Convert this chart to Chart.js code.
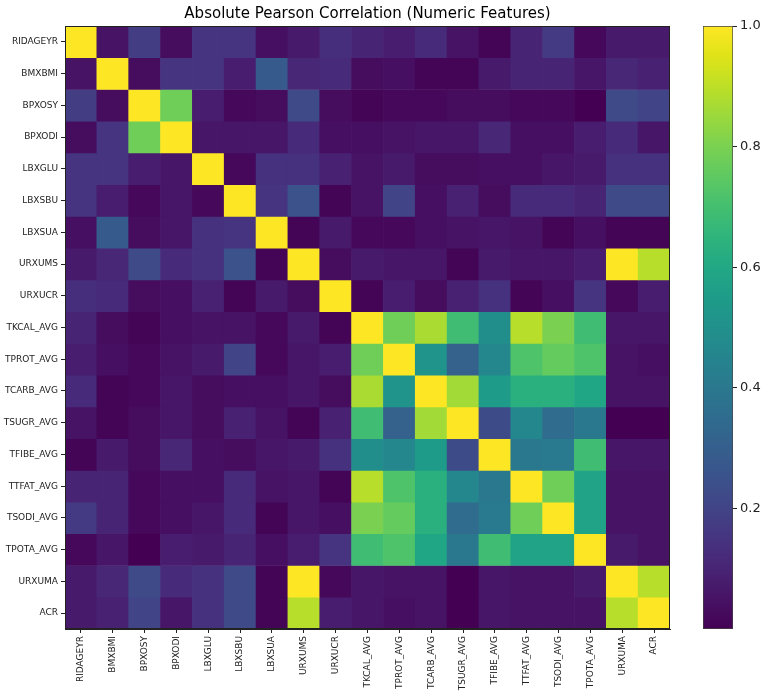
<!DOCTYPE html>
<html>
<head>
<meta charset="utf-8">
<script src="https://cdn.jsdelivr.net/npm/chart.js@4.4.1/dist/chart.umd.min.js"></script>
<style>
  html, body { margin: 0; padding: 0; background: #fff; }
  #wrap { position: relative; width: 768px; height: 698px; }
  #main { position: absolute; left: 0; top: 0; }
  #cbar { position: absolute; left: 680px; top: 0; }
</style>
</head>
<body>
<div id="wrap">
  <canvas id="main" width="768" height="698"></canvas>
  <canvas id="cbar" width="88" height="698"></canvas>
</div>
<script>
const chartTitle = 'Absolute Pearson Correlation (Numeric Features)';
const features = ['RIDAGEYR','BMXBMI','BPXOSY','BPXODI','LBXGLU','LBXSBU','LBXSUA','URXUMS','URXUCR',
  'TKCAL_AVG','TPROT_AVG','TCARB_AVG','TSUGR_AVG','TFIBE_AVG','TTFAT_AVG','TSODI_AVG','TPOTA_AVG','URXUMA','ACR'];

// absolute correlation matrix (rows = y features, columns = x features)
const corr = [
  [1.00,0.05,0.18,0.03,0.15,0.15,0.04,0.07,0.13,0.10,0.08,0.12,0.05,0.01,0.10,0.17,0.02,0.07,0.07],
  [0.05,1.00,0.03,0.15,0.15,0.08,0.28,0.11,0.12,0.03,0.04,0.01,0.01,0.07,0.10,0.10,0.06,0.11,0.09],
  [0.18,0.03,1.00,0.78,0.08,0.02,0.03,0.22,0.03,0.01,0.02,0.02,0.03,0.03,0.02,0.02,0.00,0.22,0.20],
  [0.03,0.15,0.78,1.00,0.06,0.06,0.06,0.12,0.04,0.04,0.05,0.06,0.06,0.11,0.04,0.04,0.08,0.12,0.06],
  [0.15,0.15,0.08,0.06,1.00,0.02,0.14,0.14,0.09,0.05,0.07,0.03,0.03,0.04,0.04,0.06,0.07,0.14,0.14],
  [0.15,0.08,0.02,0.06,0.02,1.00,0.15,0.25,0.01,0.05,0.20,0.04,0.09,0.03,0.12,0.12,0.10,0.22,0.22],
  [0.04,0.28,0.03,0.06,0.14,0.15,1.00,0.01,0.07,0.02,0.02,0.04,0.05,0.06,0.05,0.01,0.04,0.01,0.01],
  [0.07,0.11,0.22,0.12,0.14,0.25,0.01,1.00,0.03,0.07,0.06,0.06,0.01,0.07,0.06,0.06,0.08,1.00,0.89],
  [0.13,0.12,0.03,0.04,0.09,0.01,0.07,0.03,1.00,0.01,0.08,0.03,0.09,0.14,0.01,0.04,0.15,0.02,0.08],
  [0.10,0.03,0.01,0.04,0.05,0.05,0.02,0.07,0.01,1.00,0.78,0.87,0.69,0.49,0.89,0.80,0.69,0.06,0.06],
  [0.08,0.04,0.02,0.05,0.07,0.20,0.02,0.06,0.08,0.78,1.00,0.51,0.31,0.46,0.72,0.76,0.72,0.05,0.04],
  [0.12,0.01,0.02,0.06,0.03,0.04,0.04,0.06,0.03,0.87,0.51,1.00,0.86,0.55,0.63,0.63,0.59,0.05,0.05],
  [0.05,0.01,0.03,0.06,0.03,0.09,0.05,0.01,0.09,0.69,0.31,0.86,1.00,0.23,0.46,0.35,0.40,0.00,0.00],
  [0.01,0.07,0.03,0.11,0.04,0.03,0.06,0.07,0.14,0.49,0.46,0.55,0.23,1.00,0.40,0.41,0.69,0.06,0.06],
  [0.10,0.10,0.02,0.04,0.04,0.12,0.05,0.06,0.01,0.89,0.72,0.63,0.46,0.40,1.00,0.78,0.58,0.05,0.05],
  [0.17,0.10,0.02,0.04,0.06,0.12,0.01,0.06,0.04,0.80,0.76,0.63,0.35,0.41,0.78,1.00,0.58,0.05,0.05],
  [0.02,0.06,0.00,0.08,0.07,0.10,0.04,0.08,0.15,0.69,0.72,0.59,0.40,0.69,0.58,0.58,1.00,0.07,0.05],
  [0.07,0.11,0.22,0.12,0.14,0.22,0.01,1.00,0.02,0.06,0.05,0.05,0.00,0.06,0.05,0.05,0.07,1.00,0.89],
  [0.07,0.09,0.20,0.06,0.14,0.22,0.01,0.89,0.08,0.06,0.04,0.05,0.00,0.06,0.05,0.05,0.05,0.89,1.00]
];
const cbTicks = [0.2, 0.4, 0.6, 0.8, 1.0];
const cbRange = [0.0, 1.0];

// viridis colormap stops
const viridisStops = ['#440154','#471365','#482475','#463480','#414487','#3b528b','#355f8d','#2f6c8e',
  '#2a788e','#25848e','#21918c','#1e9c89','#22a884','#2fb47c','#44bf70','#5ec962','#7ad151','#9bd93c',
  '#bddf26','#dfe318','#fde725'];
function hex2rgb(h){ return [parseInt(h.slice(1,3),16), parseInt(h.slice(3,5),16), parseInt(h.slice(5,7),16)]; }
const viridisRGB = viridisStops.map(hex2rgb);
function viridis(t){
  t = Math.max(0, Math.min(1, (t - cbRange[0]) / (cbRange[1] - cbRange[0])));
  const n = viridisRGB.length - 1;
  const p = t * n, i = Math.min(Math.floor(p), n - 1), f = p - i;
  const a = viridisRGB[i], b = viridisRGB[i + 1];
  return 'rgb(' + a.map((v, k) => Math.round(v + (b[k] - v) * f)).join(',') + ')';
}

const FONT = 'DejaVu Sans';
const INK = '#222';

const framePlugin = {
  id: 'frame',
  afterDatasetsDraw(chart) {
    const a = chart.chartArea, c = chart.ctx;
    c.save(); c.strokeStyle = INK; c.lineWidth = 1;
    c.strokeRect(Math.round(a.left) + 0.5, Math.round(a.top) + 0.5,
      Math.round(a.right - a.left) - 1, Math.round(a.bottom - a.top) - 1);
    c.restore();
  }
};

const datasets = features.map((rowName, r) => ({
  label: rowName,
  data: corr[r].map((v, c) => ({ x: features[c], y: 1, v: v })),
  backgroundColor: ctx => viridis(ctx.raw ? ctx.raw.v : 0),
  borderWidth: 0,
  barPercentage: 1,
  categoryPercentage: 1
}));

new Chart(document.getElementById('main'), {
  type: 'bar',
  data: { labels: features, datasets: datasets },
  options: {
    responsive: false,
    animation: false,
    layout: { padding: { left: 0, right: 98, top: 0, bottom: 0 } },
    plugins: {
      legend: { display: false },
      tooltip: { enabled: false },
      title: {
        display: true, text: chartTitle, color: '#000', fullSize: false,
        font: { family: FONT, size: 15, weight: 'normal' },
        padding: { top: 5, bottom: 3 }
      }
    },
    scales: {
      x: {
        type: 'category', stacked: true, offset: true,
        grid: { offset: false, drawOnChartArea: false, drawTicks: true, tickLength: 4, color: INK },
        border: { display: true, color: INK },
        ticks: { autoSkip: false, minRotation: 90, maxRotation: 90, color: INK, padding: 3,
                 font: { family: FONT, size: 9 } },
        afterFit: s => { s.height = 69; }
      },
      y: {
        type: 'linear', stacked: true, reverse: true, min: 0, max: features.length,
        afterBuildTicks: s => { s.ticks = features.map((f, i) => ({ value: i + 0.5 })); },
        grid: { drawOnChartArea: false, drawTicks: true, tickLength: 4, color: INK },
        border: { display: true, color: INK },
        ticks: { autoSkip: false, color: INK, padding: 3, font: { family: FONT, size: 9 },
                 callback: (val, idx) => features[idx] },
        afterFit: s => { s.width = 65; }
      }
    }
  },
  plugins: [framePlugin]
});

new Chart(document.getElementById('cbar'), {
  type: 'bar',
  data: {
    labels: ['cb'],
    datasets: [{
      data: [cbRange.slice()],
      backgroundColor: ctx => {
        const ch = ctx.chart, a = ch.chartArea;
        if (!a) return viridis(0.5);
        const ys = ch.scales.y;
        const y0 = ys.getPixelForValue(cbRange[0]), y1 = ys.getPixelForValue(cbRange[1]);
        const g = ch.ctx.createLinearGradient(0, y0, 0, y1);
        viridisStops.forEach((col, i) => g.addColorStop(i / (viridisStops.length - 1), col));
        return g;
      },
      borderWidth: 1, borderColor: '#444', borderSkipped: false,
      barPercentage: 1, categoryPercentage: 1
    }]
  },
  options: {
    responsive: false,
    animation: false,
    layout: { padding: { left: 23, top: 26, bottom: 69, right: 0 } },
    plugins: { legend: { display: false }, tooltip: { enabled: false }, title: { display: false } },
    scales: {
      x: { display: false, offset: true },
      y: {
        position: 'right', min: cbRange[0], max: cbRange[1],
        afterBuildTicks: s => { s.ticks = cbTicks.map(v => ({ value: v })); },
        grid: { drawOnChartArea: false, drawTicks: true, tickLength: 4, color: INK },
        border: { display: false },
        ticks: { color: INK, padding: 3, font: { family: FONT, size: 13 },
                 callback: v => Number(v).toFixed(1) },
        afterFit: s => { s.width = 35; }
      }
    }
  }
});
</script>
</body>
</html>
